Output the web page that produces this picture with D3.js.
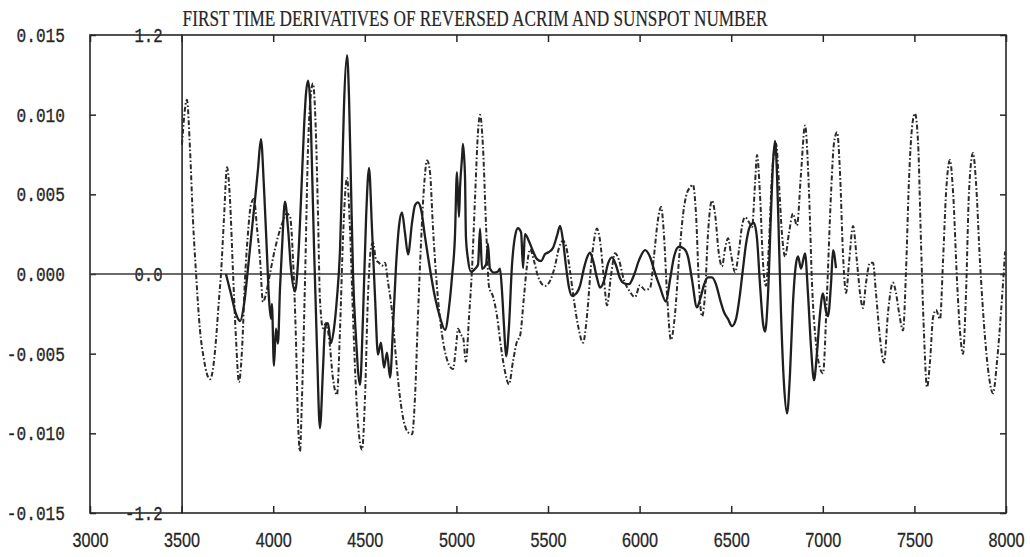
<!DOCTYPE html>
<html>
<head>
<meta charset="utf-8">
<script src="https://cdn.jsdelivr.net/npm/d3@7"></script>
<style>
    body { margin: 0; background: #fff; }
    svg { display: block; }
</style>
</head>
<body>
<svg id="chart" width="1030" height="557"></svg>
<script>
// ---- data (y in units of 1e-3) ----
const xTicks = [3000, 3500, 4000, 4500, 5000, 5500, 6000, 6500, 7000, 7500, 8000];
const yTicks = [-15, -10, -5, 0, 5, 10, 15];
const innerTicks = [-1.2, 0, 1.2];
const TITLE = 'FIRST TIME DERIVATIVES OF REVERSED ACRIM AND SUNSPOT NUMBER';

// reversed ACRIM, first derivative (dash-dot)
const acrimX = [
    3502, 3529, 3546, 3562, 3579, 3600, 3622, 3639, 3655, 3671,
    3688, 3704, 3715, 3731, 3748, 3764, 3781, 3797, 3813, 3830,
    3846, 3862, 3879, 3895, 3912, 3928, 3944, 3961, 3972, 4010,
    4048, 4075, 4092, 4108, 4124, 4135, 4146, 4157, 4174, 4190,
    4206, 4217, 4234, 4245, 4255, 4272, 4288, 4305, 4326, 4348,
    4365, 4381, 4403, 4419, 4436, 4457, 4485, 4501, 4517, 4534,
    4545, 4561, 4577, 4594, 4610, 4627, 4648, 4670, 4692, 4714,
    4736, 4758, 4774, 4790, 4807, 4823, 4840, 4856, 4872, 4894,
    4916, 4938, 4960, 4981, 4998, 5009, 5025, 5036, 5052, 5069,
    5085, 5102, 5118, 5129, 5145, 5162, 5178, 5200, 5222, 5243,
    5265, 5287, 5309, 5331, 5347, 5369, 5385, 5402, 5424, 5445,
    5467, 5484, 5500, 5516, 5538, 5560, 5582, 5598, 5620, 5642,
    5664, 5691, 5713, 5735, 5751, 5767, 5784, 5806, 5822, 5844,
    5866, 5888, 5915, 5942, 5975, 6002, 6029, 6057, 6079, 6100,
    6117, 6133, 6150, 6171, 6193, 6215, 6237, 6259, 6275, 6291,
    6308, 6324, 6341, 6357, 6373, 6395, 6412, 6433, 6450, 6466,
    6483, 6499, 6521, 6543, 6559, 6575, 6597, 6614, 6630, 6641,
    6657, 6674, 6690, 6706, 6723, 6745, 6761, 6777, 6794, 6815,
    6837, 6859, 6881, 6903, 6925, 6941, 6963, 6985, 7001, 7023,
    7045, 7061, 7078, 7094, 7110, 7127, 7143, 7165, 7187, 7203,
    7219, 7236, 7258, 7274, 7290, 7312, 7334, 7356, 7383, 7399,
    7416, 7438, 7454, 7470, 7487, 7503, 7520, 7536, 7552, 7569,
    7585, 7602, 7618, 7640, 7656, 7673, 7694, 7711, 7733, 7749,
    7765, 7782, 7798, 7820, 7836, 7858, 7885, 7907, 7929, 7951,
    7973, 7995
];
const acrimMilli = [
    8.11, 10.93, 7.80, 3.41, 0.0, -3.48, -5.36, -6.30, -6.61, -5.98,
    -4.09, -1.59, 0.0, 3.43, 6.70, 4.69, 0.0, -4.08, -6.78, -4.71,
    -0.31, 2.51, 4.39, 4.70, 2.83, 0.95, -1.75, -1.24, -0.61, 1.59,
    3.15, 3.79, 3.60, 0.97, -4.04, -9.06, -11.13, -7.81, -0.28, 7.88,
    11.32, 11.95, 8.51, 3.49, -1.52, -3.40, -3.08, -4.03, -6.53, -7.59,
    -3.39, 2.25, 6.02, 2.88, -2.76, -8.40, -11.03, -7.76, -1.49, 1.64,
    1.96, 0.90, 0.71, 0.52, 0.71, -0.54, -2.29, -5.24, -7.74, -9.31,
    -9.93, -10.06, -7.73, -2.71, 1.99, 5.44, 7.13, 6.38, 2.93, -0.82,
    -3.33, -4.89, -5.71, -5.96, -4.57, -3.44, -3.82, -3.94, -5.51, -2.68,
    0.26, 4.85, 8.92, 9.99, 7.98, 2.97, -0.79, -1.42, -2.66, -4.55,
    -6.11, -6.92, -5.48, -4.22, -3.91, -1.40, 0.49, 1.55, 0.80, -0.13,
    -0.63, -0.75, -0.63, -0.31, 0.50, 1.64, 2.08, 1.77, 0.20, -1.68,
    -3.24, -4.31, -2.61, 0.53, 2.09, 2.85, 2.10, -0.41, -1.97, -0.09,
    1.30, 0.86, -0.40, -1.02, -1.45, -0.70, -1.00, -0.88, 1.19, 3.39,
    4.21, 2.45, -1.30, -4.13, -2.55, 0.90, 3.72, 5.10, 5.42, 5.61,
    3.73, -0.66, -2.66, -1.28, 2.48, 4.61, 3.74, 1.24, 0.48, 1.55,
    2.24, 1.24, 0.12, 1.56, 3.00, 3.57, 3.26, 2.95, 5.65, 7.47,
    5.02, 0.63, -0.74, 1.89, 6.28, 8.17, 5.66, 2.53, 1.09, 2.53,
    3.79, 3.04, 6.30, 9.32, 5.05, -0.59, -4.35, -5.91, -6.23, -1.20,
    5.07, 8.20, 8.90, 6.33, 1.31, -1.19, 0.69, 3.01, 0.70, -1.19,
    -2.13, -0.55, 0.70, 0.70, -1.17, -3.99, -5.56, -2.42, -0.54, -1.16,
    -2.41, -3.54, 0.10, 5.74, 9.19, 10.08, 8.26, 1.99, -3.66, -7.10,
    -5.53, -2.71, -2.26, -2.83, 0.75, 5.14, 7.15, 5.14, -0.50, -3.63,
    -5.01, -1.12, 5.15, 7.60, 5.79, 0.77, -3.92, -6.43, -7.49, -5.49,
    -2.35, 1.42
];

// sunspot number, first derivative (solid)
const sunspotX = [
    3742, 3770, 3797, 3819, 3841, 3862, 3884, 3901, 3917, 3933,
    3950, 3966, 3977, 3988, 3993, 4004, 4015, 4026, 4037, 4048,
    4064, 4081, 4097, 4119, 4135, 4152, 4168, 4179, 4190, 4201,
    4212, 4223, 4239, 4255, 4272, 4283, 4299, 4315, 4332, 4348,
    4365, 4376, 4386, 4403, 4414, 4425, 4436, 4452, 4474, 4490,
    4507, 4523, 4539, 4556, 4572, 4588, 4605, 4621, 4638, 4654,
    4670, 4687, 4703, 4719, 4736, 4758, 4774, 4790, 4807, 4829,
    4856, 4883, 4910, 4938, 4960, 4976, 4992, 5003, 5014, 5020,
    5031, 5036, 5047, 5052, 5063, 5080, 5102, 5118, 5129, 5140,
    5162, 5172, 5183, 5205, 5227, 5238, 5249, 5260, 5271, 5287,
    5303, 5320, 5336, 5353, 5364, 5374, 5396, 5418, 5440, 5462,
    5484, 5505, 5527, 5549, 5566, 5582, 5598, 5615, 5631, 5653,
    5675, 5697, 5713, 5729, 5746, 5768, 5784, 5806, 5828, 5849,
    5871, 5893, 5915, 5942, 5969, 5997, 6030, 6057, 6084, 6111,
    6144, 6166, 6188, 6215, 6242, 6264, 6286, 6313, 6330, 6352,
    6373, 6395, 6417, 6439, 6461, 6483, 6504, 6526, 6548, 6564,
    6581, 6603, 6624, 6641, 6657, 6674, 6685, 6701, 6717, 6728,
    6739, 6750, 6761, 6772, 6788, 6805, 6821, 6837, 6854, 6865,
    6881, 6903, 6919, 6936, 6952, 6968, 6985, 7001, 7017, 7028,
    7045, 7056, 7072
];
const sunspotMilli = [
    0.0, -1.27, -2.51, -2.95, -1.89, 0.31, 2.82, 4.70, 6.59, 8.47,
    5.34, 1.27, -1.55, -2.81, -1.87, -5.76, -3.43, -4.37, -0.92, 1.59,
    4.54, 2.85, 0.34, -1.10, 0.66, 4.73, 9.12, 11.32, 12.14, 11.01,
    6.62, 1.61, -4.66, -9.67, -5.91, -3.40, -3.08, -4.34, -3.40, -1.51,
    1.62, 6.01, 10.40, 13.73, 11.04, 5.39, -0.06, -4.01, -6.95, -2.75,
    3.52, 6.66, 2.90, -1.49, -5.06, -4.31, -5.87, -4.93, -6.50, -3.36,
    0.41, 3.04, 3.86, 2.61, 1.23, 3.24, 4.31, 4.50, 4.06, 2.31,
    0.30, -1.45, -2.70, -3.51, -2.07, -0.19, 2.33, 6.40, 3.58, 5.46,
    7.34, 8.16, 6.09, 2.33, 0.95, 0.14, 0.33, 0.58, 2.84, 0.33,
    0.59, 1.91, 0.34, 0.09, 0.16, 0.34, -1.10, -3.29, -5.17, -3.29,
    0.48, 2.36, 2.87, 2.61, 0.36, 2.50, 2.06, 1.43, 0.93, 0.81,
    1.25, 1.38, 1.63, 2.39, 3.02, 2.08, 0.51, -0.87, -1.37, -1.24,
    -0.73, 0.40, 1.03, 1.34, 0.84, -0.28, -0.85, -0.41, 0.66, 1.04,
    0.55, -0.27, -0.58, -0.64, -0.08, 0.87, 1.50, 1.07, 0.07, -0.81,
    -1.74, -0.36, 1.08, 1.71, 1.59, 1.09, -0.35, -2.10, -1.60, -0.66,
    -0.21, -0.21, -0.65, -1.59, -2.40, -2.83, -3.27, -2.83, -1.26, 0.31,
    1.88, 3.01, 3.20, 2.20, -0.62, -3.13, -3.62, -1.24, 3.77, 6.91,
    8.36, 6.29, 1.90, -2.49, -6.88, -8.75, -6.24, -1.86, 0.66, 1.10,
    0.34, 1.29, -1.22, -4.66, -6.67, -4.97, -2.46, -1.21, -2.33, -2.65,
    -0.58, 1.49, 0.37
];

// ---- layout ----
const WIDTH = 1030;
const HEIGHT = 557;
const MARGIN = { top: 35, right: 24, bottom: 44, left: 90 };
const INK = '#262626';
const MONO = '"Liberation Mono", "DejaVu Sans Mono", monospace';
const SANS = '"Liberation Sans", Arial, sans-serif';
const SERIF = '"Liberation Serif", "DejaVu Serif", serif';
const X_LABEL_WIDTH = 36;

const svg = d3.select('#chart');
svg.append('rect').attr('width', WIDTH).attr('height', HEIGHT).attr('fill', '#fff');

const x = d3.scaleLinear().domain([3000, 8000]).range([MARGIN.left, WIDTH - MARGIN.right]);
const y = d3.scaleLinear().domain([-15, 15]).range([HEIGHT - MARGIN.bottom, MARGIN.top]);
const yInner = d3.scaleLinear().domain([-1.2, 1.2]).range(y.range());

function styleTicks(g) {
    g.select('.domain').remove();
    g.selectAll('.tick line').attr('stroke', INK).attr('stroke-width', 1.5);
}

// scanned print looks a little heavier than a plain regular face
function inkText(sel, family, size, perChar) {
    sel.attr('fill', INK)
        .attr('stroke', INK)
        .attr('stroke-width', 0.3)
        .style('font-family', family)
        .style('font-size', `${size}px`)
        .attr('textLength', function () { return this.textContent.length * perChar; })
        .attr('lengthAdjust', 'spacingAndGlyphs');
}

// bottom axis with labels
svg.append('g')
    .attr('transform', `translate(0,${y(-15)})`)
    .call(d3.axisBottom(x).tickValues(xTicks).tickSize(-7).tickPadding(19).tickFormat(d3.format('d')))
    .call(styleTicks)
    .call(g => g.selectAll('text').call(inkText, SANS, 21, X_LABEL_WIDTH / 4))
    // last label sits at the page edge: anchor it by its right end instead
    .call(g => g.selectAll('.tick').filter(d => d === 8000).select('text')
        .attr('text-anchor', 'end')
        .attr('x', X_LABEL_WIDTH / 2));

// top axis, ticks only
svg.append('g')
    .attr('transform', `translate(0,${y(15)})`)
    .call(d3.axisTop(x).tickValues(xTicks).tickSize(-7).tickFormat(''))
    .call(styleTicks);

// left axis with labels
svg.append('g')
    .attr('transform', `translate(${x(3000)},0)`)
    .call(d3.axisLeft(y).tickValues(yTicks).tickSize(-6).tickPadding(25)
        .tickFormat(d => (d / 1000).toFixed(3)))
    .call(styleTicks)
    .call(g => g.selectAll('text').call(inkText, MONO, 20, 9.7));

// right axis, ticks only
svg.append('g')
    .attr('transform', `translate(${x(8000)},0)`)
    .call(d3.axisRight(y).tickValues(yTicks).tickSize(-6).tickFormat(''))
    .call(styleTicks);

// inner axis at 3500 (scale of the second series)
svg.append('g')
    .attr('transform', `translate(${x(3500)},0)`)
    .call(d3.axisLeft(yInner).tickValues(innerTicks).tickSize(0).tickSizeOuter(0).tickPadding(19)
        .tickFormat(d => d.toFixed(1)))
    .call(g => g.select('.domain').attr('stroke', INK).attr('stroke-width', 1.6))
    .call(g => g.selectAll('text').call(inkText, MONO, 20, 9.4));

// frame
svg.append('rect')
    .attr('x', x(3000))
    .attr('y', y(15))
    .attr('width', x(8000) - x(3000))
    .attr('height', y(-15) - y(15))
    .attr('fill', 'none')
    .attr('stroke', INK)
    .attr('stroke-width', 1.6);

// zero line
svg.append('line')
    .attr('x1', x(3000)).attr('x2', x(8000))
    .attr('y1', y(0)).attr('y2', y(0))
    .attr('stroke', '#3a3a3a')
    .attr('stroke-width', 1.6);

const line = d3.line()
    .x(d => x(d[0]))
    .y(d => y(d[1]))
    .curve(d3.curveMonotoneX);

svg.append('path')
    .datum(d3.zip(acrimX, acrimMilli))
    .attr('d', line)
    .attr('fill', 'none')
    .attr('stroke', '#2b2b2b')
    .attr('stroke-width', 2)
    .attr('stroke-dasharray', '5,2.2,1.6,2.2');

svg.append('path')
    .datum(d3.zip(sunspotX, sunspotMilli))
    .attr('d', line)
    .attr('fill', 'none')
    .attr('stroke', '#1f1f1f')
    .attr('stroke-width', 2.3)
    .attr('stroke-linejoin', 'round');

// title
svg.append('text')
    .attr('x', x(3500) + 1)
    .attr('y', 26)
    .text(TITLE)
    .call(inkText, SERIF, 23, 585 / TITLE.length)
    .attr('stroke-width', 0.2);
</script>
</body>
</html>
